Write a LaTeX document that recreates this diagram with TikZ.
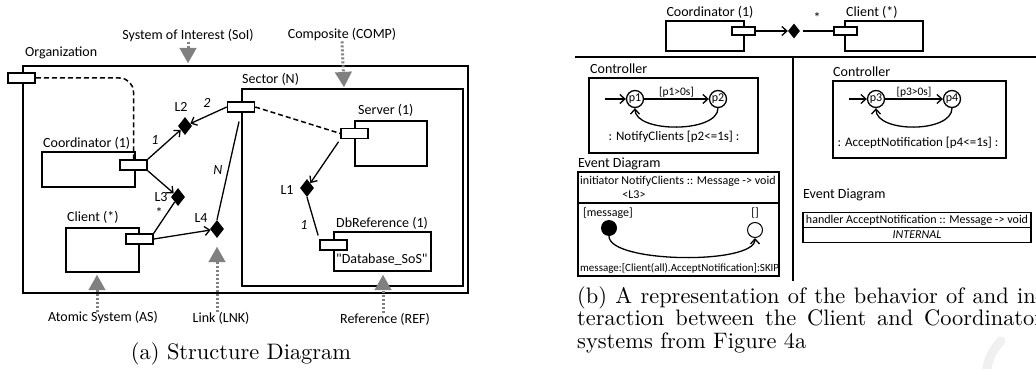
\documentclass[tikz,border=0pt]{standalone}
\usepackage{fontspec}
\newfontfamily\calib{Carlito}
\newfontfamily\capfont{lmroman10-regular.otf}
\usetikzlibrary{arrows.meta,shapes.geometric,positioning}

\begin{document}
\begin{tikzpicture}[x=1pt,y=-1pt,
  sysBox/.style={draw, line width=1.6pt, inner sep=0pt},
  portBox/.style={draw, line width=1.5pt, fill=white, minimum width=27pt, minimum height=10pt, inner sep=0pt},
  smallPort/.style={portBox, minimum width=23pt, minimum height=8pt},
  linkNode/.style={diamond, fill=black, inner sep=0pt, minimum width=14pt, minimum height=18pt},
  placeNode/.style={circle, draw, line width=1.3pt, minimum size=17pt, inner sep=0pt, font=\calib\fontsize{12}{13}\selectfont},
  sysLabel/.style={font=\calib\fontsize{14}{16}\selectfont, inner sep=0pt},
  multLabel/.style={font=\calib\itshape\fontsize{14}{16}\selectfont, inner sep=0pt},
  eventText/.style={font=\calib\fontsize{12}{13}\selectfont, inner sep=0pt},
  guardText/.style={font=\calib\fontsize{11.5}{13}\selectfont, inner sep=0.5pt},
  capText/.style={font=\capfont\fontsize{22.4}{22.5}\selectfont, inner sep=0pt},
  linkArrow/.style={line width=1.3pt, -{Straight Barb[length=5pt,width=9pt]}},
  linkLine/.style={line width=1.3pt},
  dashLine/.style={line width=1.5pt, dash pattern=on 5pt off 3pt},
  kindArrow/.style={draw=gray, line width=3pt, dash pattern=on 2pt off 2pt, -{Triangle[length=15pt,width=17pt,line width=0.1pt,fill=gray]}}
]
\useasboundingbox (0,0) rectangle (1036,369);

\node[sysBox, minimum width=445pt, minimum height=227pt] (org) at (245.5,179.5) {};
\node[sysBox, minimum width=221pt, minimum height=197pt] (sector) at (352.5,187.5) {};
\node[sysBox, minimum width=93pt, minimum height=35pt] (coord) at (88.5,169.5) {};
\node[sysBox, minimum width=73pt, minimum height=44pt] (client) at (102.5,250) {};
\node[sysBox, minimum width=72pt, minimum height=45pt] (server) at (391,143.5) {};
\node[sysBox, minimum width=97pt, minimum height=39pt] (dbRef) at (382.5,251.5) {};
\node[portBox] (orgPort) at (21.5,78) {};
\node[portBox] (coordPort) at (133.5,165) {};
\node[portBox] (clientPort) at (139.5,239) {};
\node[portBox] (sectorPort) at (241,107) {};
\node[portBox] (serverPort) at (354.5,133.5) {};
\node[portBox] (dbPort) at (333.5,245) {};

\node[sysLabel, anchor=west] (orgLbl) at (25,53) {Organization};
\node[sysLabel, anchor=west] (sectorLbl) at (242,79) {Sector (N)};
\node[sysLabel, anchor=west] (serverLbl) at (358,110) {Server (1)};
\node[sysLabel, anchor=west] (coordLbl) at (43,143) {Coordinator (1)};
\node[sysLabel, anchor=west] (clientLbl) at (67,217) {Client (*)};
\node[sysLabel, anchor=west] (dbRefLbl) at (336,223) {DbReference (1)};
\node[sysLabel, anchor=west] (dbName) at (336,260) {"Database\_SoS"};

\node[linkNode] (L1) at (307,188) {};
\node[linkNode] (L2) at (185,126) {};
\node[linkNode] (L3) at (178,197) {};
\node[linkNode] (L4) at (217,229) {};
\node[sysLabel] (L1Lbl) at (287,190) {L1};
\node[sysLabel] (L2Lbl) at (181,107) {L2};
\node[sysLabel] (L3Lbl) at (161,197) {L3};
\node[sysLabel] (L4Lbl) at (201,218) {L4};

\draw[dashLine, rounded corners=14pt] (orgPort.east) -| (coordPort.north);
\draw[linkArrow] (coordPort.north east) -- (L2);
\node[multLabel] (m1) at (155,140) {1};
\draw[linkArrow] (coordPort.south east) -- (L3);
\draw[linkLine] (clientPort.north east) -- (L3);
\node[sysLabel] (m2) at (159,213) {*};
\draw[linkArrow] (clientPort.east) -- (L4);
\draw[linkArrow] (sectorPort.west) -- (L2);
\node[multLabel] (m3) at (207,103) {2};
\draw[linkLine, shorten <=9pt] (sectorPort.south) -- (L4.north);
\node[multLabel] (m4) at (218,170) {N};
\draw[dashLine] (sectorPort.east) -- (serverPort.west);
\draw[linkArrow, shorten <=3pt] (serverPort.south west) -- (L1);
\draw[linkLine, shorten >=4pt] (L1.south) -- (dbPort.north west);
\node[multLabel] (m5) at (304,225) {1};

\node[sysLabel] (soiLbl) at (188,36) {System of Interest (SoI)};
\node[sysLabel] (compLbl) at (342,35) {Composite (COMP)};
\node[sysLabel] (asLbl) at (103,318) {Atomic System (AS)};
\node[sysLabel] (lnkLbl) at (221,318) {Link (LNK)};
\node[sysLabel] (refLbl) at (385,319) {Reference (REF)};
\coordinate (soiTip) at (188,63);
\coordinate (compTip) at (344,87);
\coordinate (asTip) at (97,275);
\coordinate (lnkTip) at (217,247);
\coordinate (refTip) at (383,275);
\draw[kindArrow] (soiLbl.south) -- (soiTip);
\draw[kindArrow] (compLbl.south) -- (compTip);
\draw[kindArrow] (asLbl.north -| asTip) -- (asTip);
\draw[kindArrow] (lnkLbl.north -| lnkTip) -- (lnkTip);
\draw[kindArrow] (refLbl.north -| refTip) -- (refTip);

\node[capText, anchor=base] (capA) at (241,359) {(a) Structure Diagram};

\node[sysBox, minimum width=78pt, minimum height=30pt] (coordB) at (705,36) {};
\node[sysBox, minimum width=78pt, minimum height=30pt] (clientB) at (884,36) {};
\node[smallPort] (coordBPort) at (743.5,31) {};
\node[smallPort] (clientBPort) at (845.5,31) {};
\node[linkNode, minimum width=12pt, minimum height=15pt] (LB) at (794,31) {};
\node[sysLabel] (coordBLbl) at (710,12) {Coordinator (1)};
\node[sysLabel, anchor=west] (clientBLbl) at (846,12) {Client (*)};
\draw[linkArrow] (coordBPort.east) -- (LB);
\draw[linkLine, shorten <=3pt] (LB) -- (clientBPort.west);
\node[sysLabel] (mB) at (817,18) {*};

\draw[line width=1.6pt] (575,57) -- (1036,57);
\draw[line width=2pt] (793,57) -- (793,281);

\node[sysLabel, anchor=west] (ctrlALbl) at (590,69) {Controller};
\node[sysBox, minimum width=169pt, minimum height=75pt] (ctrlA) at (673.5,115.5) {};
\node[placeNode] (p1) at (635,99) {p1};
\node[placeNode] (p2) at (718,99) {p2};
\coordinate (p1In) at (605,99);
\draw[linkArrow] (p1In) -- (p1);
\draw[linkArrow] (p1) -- node[above, guardText] (g1) {[p1>0s]} (p2);
\draw[linkArrow] (p2.south) .. controls +(0,25) and +(0,25) .. (p1.south);
\node[sysLabel, font=\calib\fontsize{13}{15}\selectfont] (n1) at (674,137) {: NotifyClients [p2<=1s] :};

\node[sysLabel, anchor=west] (ctrlBLbl) at (833,72) {Controller};
\node[sysBox, minimum width=173pt, minimum height=77pt] (ctrlB) at (919.5,119.5) {};
\node[placeNode] (p3) at (876,99) {p3};
\node[placeNode] (p4) at (952,99) {p4};
\coordinate (p3In) at (849,99);
\draw[linkArrow] (p3In) -- (p3);
\draw[linkArrow] (p3) -- node[above, guardText] (g3) {[p3>0s]} (p4);
\draw[linkArrow] (p4.south) .. controls +(0,25) and +(0,25) .. (p3.south);
\node[sysLabel, font=\calib\fontsize{13}{15}\selectfont] (n3) at (918,143) {: AcceptNotification [p4<=1s] :};

\node[sysLabel, anchor=west] (evALbl) at (578,164) {Event Diagram};
\node[sysBox, minimum width=201pt, minimum height=31pt] (evAHead) at (678.5,187.5) {};
\node[sysBox, minimum width=201pt, minimum height=73pt] (evABody) at (678.5,239.5) {};
\node[eventText, anchor=west] (evASig) at (580,181) {initiator NotifyClients :: Message -> void};
\node[eventText] (evAPort) at (634,195) {<L3>};
\node[eventText, anchor=west] (msgLbl) at (583,213) {[message]};
\node[eventText] (emptyLbl) at (755,213) {[]};
\node[circle, fill=black, minimum size=16pt, inner sep=0pt] (msgStart) at (609,228) {};
\node[circle, draw, line width=1pt, minimum size=15pt, inner sep=0pt] (msgEnd) at (755,230) {};
\draw[linkArrow] (msgStart.south) .. controls +(0,27) and +(0,27) .. (msgEnd.south);
\node[eventText, font=\calib\fontsize{11}{12}\selectfont, anchor=west] (msgSend) at (580,268) {message:[Client(all).AcceptNotification]:SKIP};

\node[sysLabel, anchor=west] (evBLbl) at (803,195) {Event Diagram};
\node[sysBox, minimum width=228pt, minimum height=15pt] (evBHead) at (917,220) {};
\node[sysBox, minimum width=228pt, minimum height=15pt] (evBBody) at (917,235) {};
\node[eventText] (evBSig) at (evBHead) {handler AcceptNotification :: Message -> void};
\node[eventText, font=\calib\itshape\fontsize{12}{13}\selectfont] (evBInt) at (evBBody) {INTERNAL};

\node[capText, anchor=base west, text width=466pt, align=justify] (capB) at (577,303) {(b) A representation of the behavior of and in-\linebreak teraction between the Client and Coordinator\linebreak systems from Figure 4a};

\draw[gray!12, line width=9pt, line cap=round] (1001,341) .. controls (992,350) and (988,360) .. (987,369);
\end{tikzpicture}
\end{document}
